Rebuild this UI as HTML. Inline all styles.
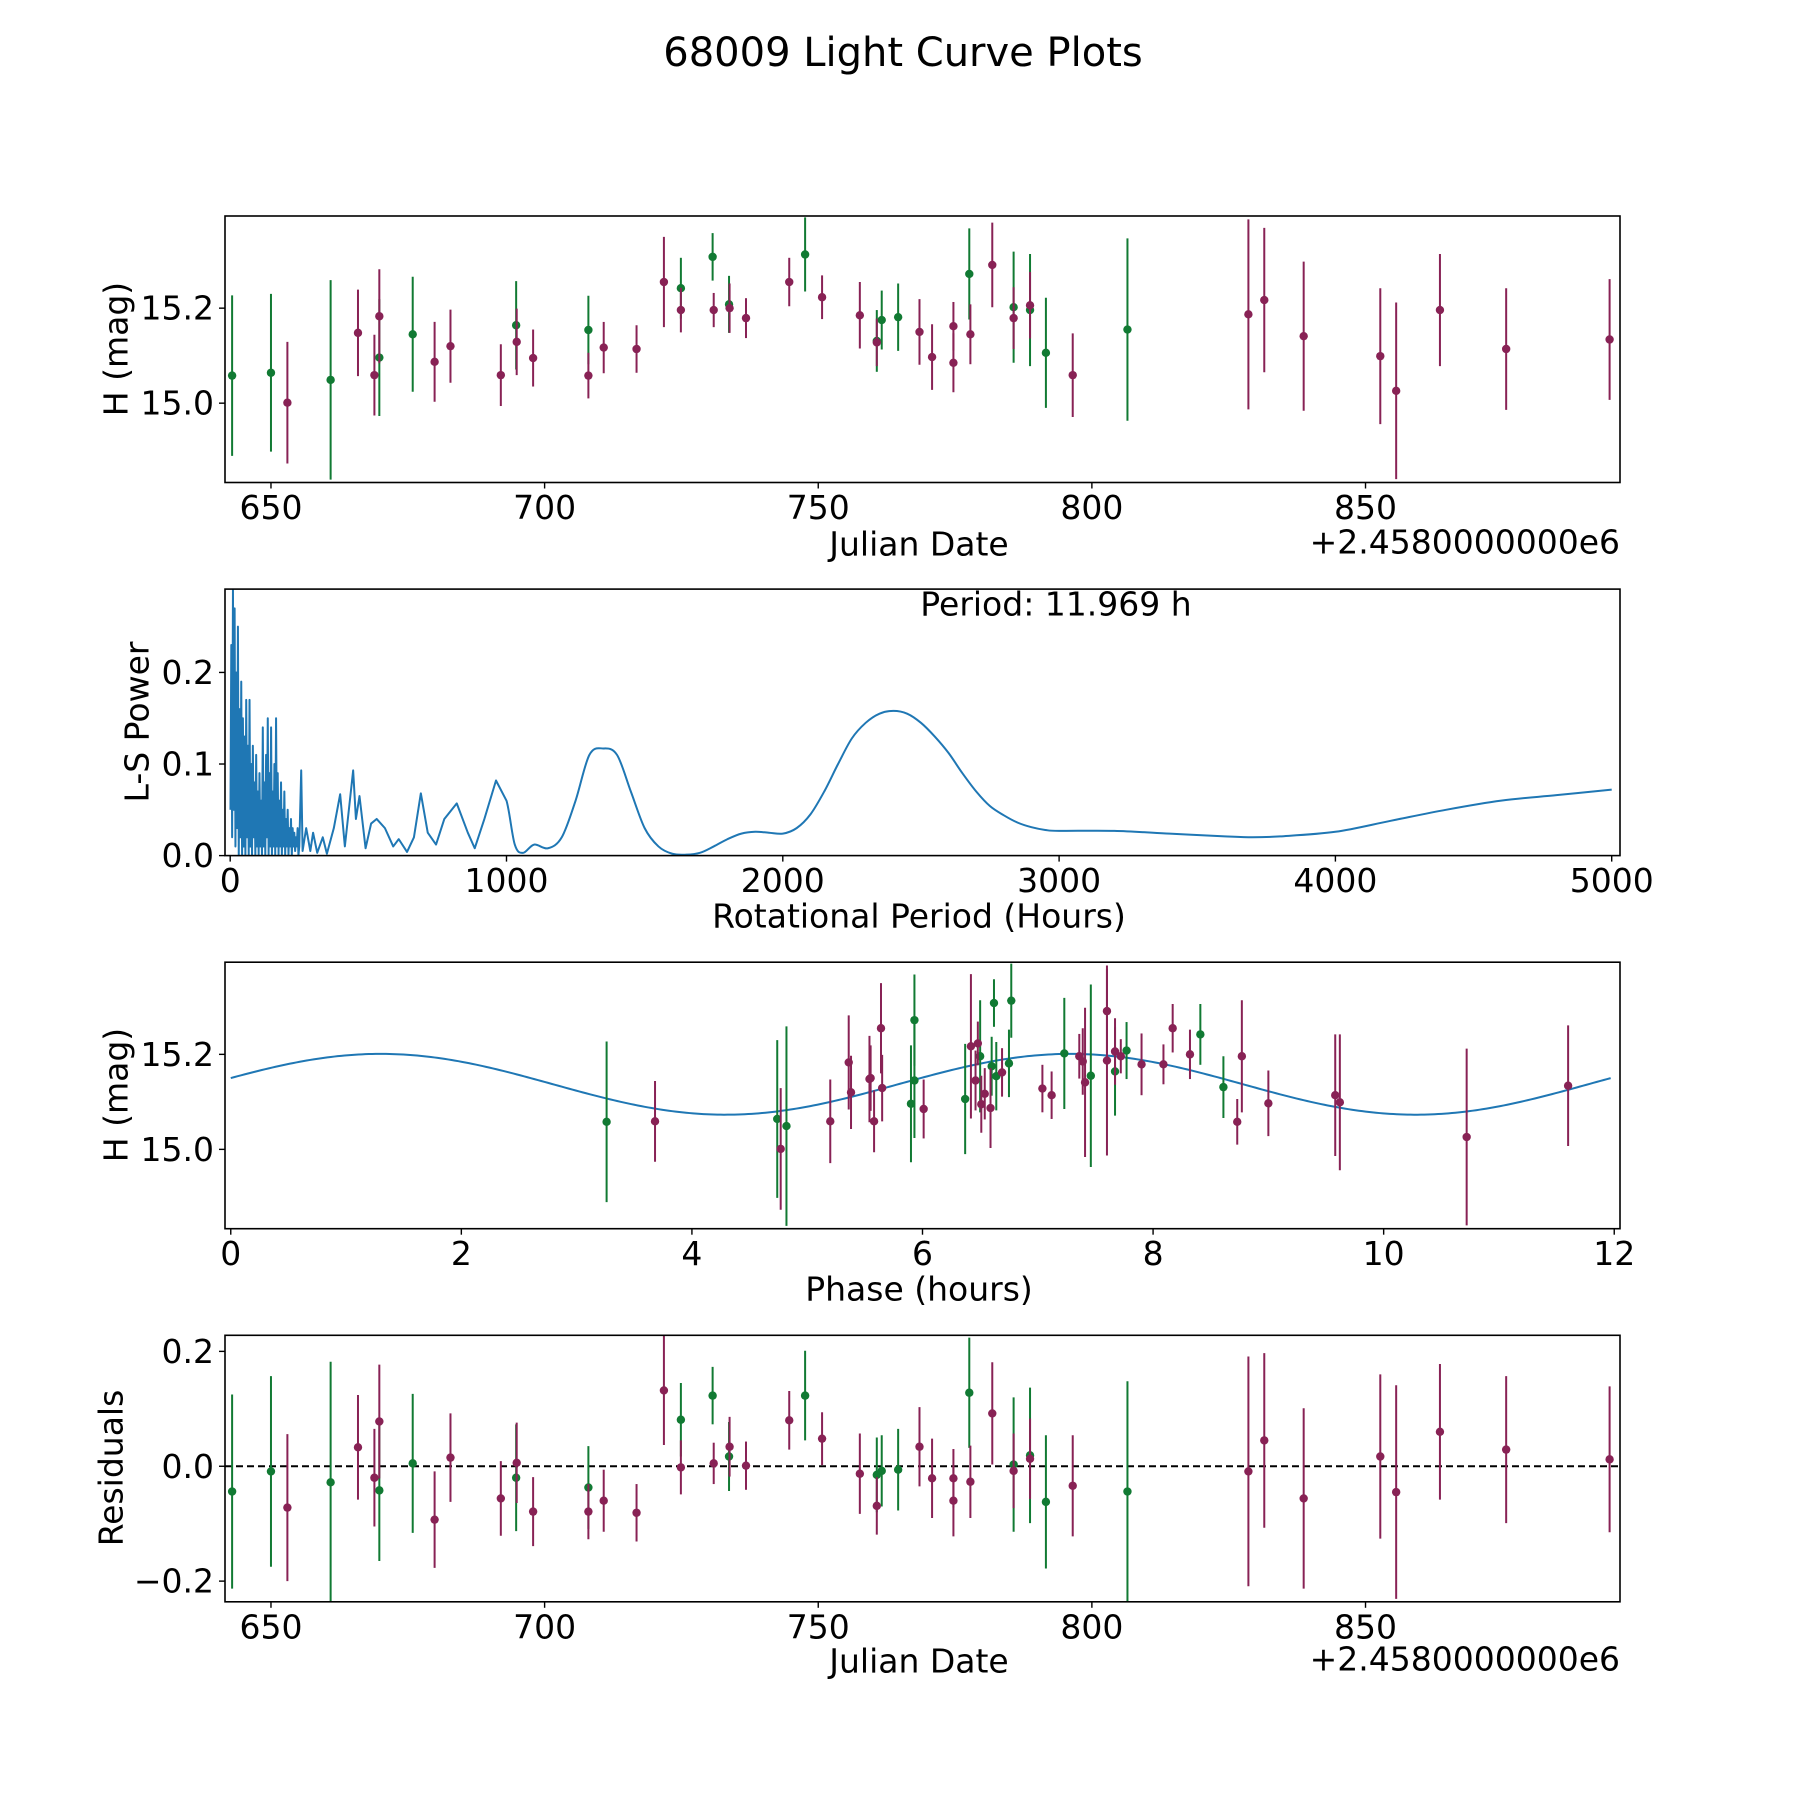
<!DOCTYPE html>
<html><head><meta charset="utf-8"><title>68009 Light Curve Plots</title>
<style>
html,body{margin:0;padding:0;background:#fff;}
svg text{font-family:"DejaVu Sans","Liberation Sans",sans-serif;fill:#000;}
</style></head>
<body>
<svg id="fig" xmlns="http://www.w3.org/2000/svg" width="1800" height="1800" viewBox="0 0 1800 1800">
<rect x="0" y="0" width="1800" height="1800" fill="#fff"/>
<text x="903" y="53" font-size="40" text-anchor="middle" dominant-baseline="central">68009 Light Curve Plots</text>
</svg>
<script>
// ---------- observation data ----------
const obsDates = [642.9,650.0,653.0,660.9,665.9,668.9,669.8,669.8,675.9,679.9,682.8,692.0,694.8,694.9,697.9,708.0,708.0,710.8,716.8,721.8,724.9,724.9,730.7,730.9,733.7,733.8,736.8,744.7,747.6,750.7,757.6,760.7,760.7,761.6,764.6,768.5,770.8,774.7,774.7,777.6,777.8,781.8,785.7,785.7,788.7,788.7,791.6,796.5,806.5,828.6,831.5,838.7,852.7,855.6,863.6,875.7,894.6];
const obsMag = [15.058,15.064,15.001,15.049,15.148,15.059,15.183,15.096,15.145,15.087,15.12,15.059,15.164,15.129,15.095,15.154,15.058,15.117,15.114,15.255,15.242,15.196,15.308,15.196,15.208,15.2,15.179,15.255,15.313,15.223,15.185,15.131,15.128,15.175,15.181,15.15,15.097,15.162,15.085,15.272,15.145,15.291,15.202,15.179,15.206,15.196,15.106,15.059,15.155,15.187,15.217,15.141,15.099,15.026,15.196,15.114,15.134];
const obsErr = [0.169,0.166,0.128,0.21,0.091,0.085,0.099,0.123,0.121,0.084,0.077,0.065,0.093,0.07,0.06,0.072,0.048,0.054,0.05,0.095,0.064,0.047,0.05,0.036,0.06,0.052,0.042,0.051,0.078,0.046,0.07,0.065,0.05,0.062,0.071,0.069,0.069,0.051,0.062,0.096,0.063,0.089,0.117,0.065,0.07,0.118,0.116,0.088,0.192,0.2,0.152,0.157,0.143,0.186,0.118,0.128,0.127];
const obsPhase = [3.26,4.74,4.77,4.82,5.54,3.68,5.36,5.90,5.93,6.59,5.38,5.58,7.67,5.65,6.51,6.64,8.73,6.54,7.12,5.64,8.41,7.36,6.62,7.72,7.77,8.32,8.09,8.17,6.77,6.48,7.39,8.61,7.04,6.60,6.75,5.55,9.00,6.69,6.01,5.93,6.46,7.60,7.23,7.90,7.67,6.50,6.37,5.20,7.46,7.60,6.42,7.41,9.62,10.72,8.77,9.58,11.60];
const obsResid = [-0.044,-0.009,-0.072,-0.028,0.033,-0.02,0.078,-0.042,0.005,-0.093,0.015,-0.056,-0.02,0.006,-0.079,-0.037,-0.079,-0.06,-0.081,0.132,0.081,-0.002,0.123,0.005,0.017,0.034,0.001,0.08,0.123,0.048,-0.013,-0.015,-0.069,-0.008,-0.006,0.034,-0.021,-0.021,-0.06,0.128,-0.027,0.092,0.003,-0.008,0.013,0.019,-0.062,-0.034,-0.044,-0.009,0.045,-0.056,0.017,-0.045,0.06,0.029,0.012];
const obsFilter = ['g','g','p','g','p','p','p','g','g','p','p','p','g','p','p','g','p','p','p','p','g','p','g','p','g','p','p','p','g','p','p','g','p','g','g','p','p','p','p','g','p','p','g','p','p','g','g','p','g','p','p','p','p','p','p','p','p'];

// ---------- periodogram ----------
const lsPeriods = [1,4,7,10,13,16,19,22,25,28,31,34,37,40,43,46,49,52,55,58,61,64,67,70,73,76,79,82,85,88,91,94,97,100,103,106,109,112,115,118,121,124,127,130,133,136,139,142,145,148,151,154,157,160,163,166,169,172,175,178,181,184,187,190,193,196,199,202,205,208,211,214,217,220,223,226,229,232,235,238,241,244,247,250,257,262,275,290,300,315,335,350,375,398,415,445,455,468,490,510,530,560,590,610,640,665,690,715,745,775,820,860,885,920,962,1000,1030,1060,1100,1150,1200,1250,1300,1350,1400,1450,1500,1550,1600,1650,1700,1750,1800,1850,1900,1950,2000,2050,2100,2150,2200,2250,2300,2350,2400,2450,2500,2550,2600,2650,2700,2750,2800,2850,2900,2950,3000,3200,3400,3600,3700,3800,4000,4200,4400,4600,4800,5000];
const lsPower = [0.05,0.23,0.02,0.29,0.05,0.27,0.01,0.2,0.03,0.25,0.0,0.16,0.02,0.19,0.0,0.15,0.01,0.13,0.0,0.17,0.02,0.12,0.0,0.17,0.01,0.1,0.0,0.12,0.02,0.08,0.0,0.11,0.01,0.07,0.0,0.09,0.01,0.06,0.0,0.14,0.01,0.08,0.0,0.11,0.02,0.15,0.0,0.09,0.01,0.14,0.0,0.07,0.01,0.1,0.0,0.15,0.01,0.09,0.0,0.06,0.01,0.08,0.0,0.05,0.01,0.07,0.0,0.04,0.01,0.05,0.0,0.03,0.01,0.04,0.0,0.03,0.01,0.025,0.005,0.02,0.01,0.03,0.0,0.01,0.093,0.005,0.03,0.005,0.025,0.003,0.02,0.002,0.03,0.067,0.01,0.093,0.04,0.065,0.008,0.035,0.04,0.03,0.01,0.018,0.004,0.02,0.068,0.025,0.012,0.04,0.057,0.025,0.008,0.04,0.082,0.06,0.012,0.003,0.012,0.008,0.02,0.06,0.11,0.117,0.11,0.07,0.03,0.01,0.002,0.001,0.003,0.01,0.018,0.024,0.026,0.025,0.024,0.03,0.045,0.07,0.1,0.128,0.145,0.155,0.158,0.155,0.145,0.13,0.112,0.09,0.07,0.054,0.044,0.036,0.031,0.028,0.027,0.027,0.024,0.021,0.02,0.021,0.026,0.038,0.05,0.06,0.066,0.072];
const periodLabel = "Period: 11.969 h";

// ---------- fitted model ----------
const modelMean = [15.137];
const modelAmp = [0.064];
const modelPeriod = [5.985];
const modelPeak = [1.3];

// ---------- ticks ----------
const dateTicks = [650,700,750,800,850];
const magTicks = [15.0,15.2];
const magTickLabels = ["15.0","15.2"];
const lsXTicks = [0,1000,2000,3000,4000,5000];
const lsYTicks = [0.0,0.1,0.2];
const lsYTickLabels = ["0.0","0.1","0.2"];
const phaseTicks = [0,2,4,6,8,10,12];
const residTicks = [-0.2,0.0,0.2];
const residTickLabels = ["\u22120.2","0.0","0.2"];

const NS = "http://www.w3.org/2000/svg";
const svg = document.getElementById('fig');
const GREEN = "#117a33", PURPLE = "#882255", BLUE = "#1f77b4";
const FS = 33;
function mk(tag, attrs, parent) {
  const e = document.createElementNS(NS, tag);
  for (const k in attrs) e.setAttribute(k, attrs[k]);
  (parent || svg).appendChild(e);
  return e;
}
const L = 225, R = 1620, AH = 266.5;
const tops = [216, 589.1, 962.2, 1335.3];
let clipN = 0;
function panel(idx, xmin, xmax, ymin, ymax, name) {
  const top = tops[idx], bot = top + AH;
  const g = mk('g', {});
  
  
  const id = 'clip' + (clipN++);
  const cp = mk('clipPath', {id: id}, g);
  mk('rect', {x: L, y: top, width: R - L, height: AH}, cp);
  const plot = mk('g', {'clip-path': 'url(#' + id + ')'}, g);
  
  
  return {g, plot, top, bot,
    sx: v => L + (v - xmin) / (xmax - xmin) * (R - L),
    sy: v => bot - (v - ymin) / (ymax - ymin) * AH};
}
function frame(p, name) {
  const r = mk('rect', {x: L, y: p.top, width: R - L, height: AH, fill: 'none', stroke: '#000', 'stroke-width': 1.6}, p.g);
  
  
}
function xTicks(p, ticks, labels, name) {
  ticks.forEach((t, i) => {
    const x = p.sx(t);
    const tl = mk('line', {x1: x, x2: x, y1: p.bot, y2: p.bot + 6, stroke: '#000', 'stroke-width': 1.4}, p.g);
    
    
    const tx = mk('text', {x: x, y: p.bot + 25, 'font-size': FS, 'text-anchor': 'middle', 'dominant-baseline': 'central'}, p.g);
    tx.textContent = labels[i];
    
    
  });
}
function yTicks(p, ticks, labels, name) {
  ticks.forEach((t, i) => {
    const y = p.sy(t);
    const tl = mk('line', {x1: L - 6, x2: L, y1: y, y2: y, stroke: '#000', 'stroke-width': 1.4}, p.g);
    
    
    const tx = mk('text', {x: L - 11, y: y, 'font-size': FS, 'text-anchor': 'end', 'dominant-baseline': 'central'}, p.g);
    tx.textContent = labels[i];
    
    
  });
}
function label(p, x, y, txt, name, rot, anchor) {
  const t = mk('text', {x: x, y: y, 'font-size': FS, 'text-anchor': anchor || 'middle', 'dominant-baseline': 'central'}, p.g);
  if (rot) t.setAttribute('transform', 'rotate(-90 ' + x + ' ' + y + ')');
  t.textContent = txt;
  
  
}
function errPoints(p, xs, ys, es, name) {
  ['g', 'p'].forEach(f => {
    const col = f === 'g' ? GREEN : PURPLE;
    for (let i = 0; i < xs.length; i++) {
      if (obsFilter[i] !== f) continue;
      const x = p.sx(xs[i]);
      const bar = mk('line', {x1: x, x2: x, y1: p.sy(ys[i] - es[i]), y2: p.sy(ys[i] + es[i]), stroke: col, 'stroke-width': 2}, p.plot);
      
      
      const c = mk('circle', {cx: x, cy: p.sy(ys[i]), r: 4.2, fill: col}, p.plot);
      
      
    }
  });
}
function dateFmt(v) { return String(v); }

// Panel 1: light curve
const p1 = panel(0, 641.6, 896.5, 14.833, 15.394, 'light-curve-panel');
errPoints(p1, obsDates, obsMag, obsErr, 'light-curve');
frame(p1, 'light-curve');
xTicks(p1, dateTicks, dateTicks.map(dateFmt), 'light-curve');
yTicks(p1, magTicks, magTickLabels, 'light-curve');
label(p1, 919, 544, 'Julian Date', 'light-curve-x-axis-title');
label(p1, 1620, 542, '+2.4580000000e6', 'light-curve-x-offset-label', false, 'end');
label(p1, 116, 349, 'H (mag)', 'light-curve-y-axis-title', true);

// Panel 2: periodogram (linear through dense part, smooth spline beyond)
const p2 = panel(1, -18.8, 5030, 0, 0.291, 'periodogram-panel');
const pts = lsPeriods.map((v, i) => [p2.sx(v), p2.sy(lsPower[i])]);
let d2 = 'M' + pts[0][0].toFixed(2) + ' ' + pts[0][1].toFixed(2);
for (let i = 1; i < pts.length; i++) {
  if (lsPeriods[i] <= 1000) { d2 += 'L' + pts[i][0].toFixed(2) + ' ' + pts[i][1].toFixed(2); continue; }
  const p0 = pts[i - 2] || pts[i - 1], a = pts[i - 1], b = pts[i], p3p = pts[i + 1] || b;
  const c1 = [a[0] + (b[0] - p0[0]) / 6, a[1] + (b[1] - p0[1]) / 6];
  const c2 = [b[0] - (p3p[0] - a[0]) / 6, b[1] - (p3p[1] - a[1]) / 6];
  d2 += 'C' + c1[0].toFixed(2) + ' ' + c1[1].toFixed(2) + ' ' + c2[0].toFixed(2) + ' ' + c2[1].toFixed(2) + ' ' + b[0].toFixed(2) + ' ' + b[1].toFixed(2);
}
const lsLine = mk('path', {d: d2, fill: 'none', stroke: BLUE, 'stroke-width': 2, 'stroke-linejoin': 'round'}, p2.plot);


frame(p2, 'periodogram');
xTicks(p2, lsXTicks, lsXTicks.map(String), 'periodogram');
yTicks(p2, lsYTicks, lsYTickLabels, 'periodogram');
label(p2, 919, 916, 'Rotational Period (Hours)', 'periodogram-x-axis-title');
label(p2, 137, 722, 'L-S Power', 'periodogram-y-axis-title', true);
label(p2, 1056, 604, periodLabel, 'period-annotation');

// Panel 3: phased
const p3 = panel(2, -0.05, 12.05, 14.833, 15.394, 'phase-panel');
let d3 = '';
for (let k = 0; k <= 400; k++) {
  const ph = 11.969 * k / 400;
  const m = modelMean[0] + modelAmp[0] * Math.cos(2 * Math.PI * (ph - modelPeak[0]) / modelPeriod[0]);
  d3 += (k ? 'L' : 'M') + p3.sx(ph).toFixed(2) + ' ' + p3.sy(m).toFixed(2);
}
const fitLine = mk('path', {d: d3, fill: 'none', stroke: BLUE, 'stroke-width': 2}, p3.plot);


errPoints(p3, obsPhase, obsMag, obsErr, 'phase');
frame(p3, 'phase');
xTicks(p3, phaseTicks, phaseTicks.map(String), 'phase');
yTicks(p3, magTicks, magTickLabels, 'phase');
label(p3, 919, 1289, 'Phase (hours)', 'phase-x-axis-title');
label(p3, 116, 1095, 'H (mag)', 'phase-y-axis-title', true);

// Panel 4: residuals
const p4 = panel(3, 641.6, 896.5, -0.236, 0.228, 'residuals-panel');
const zl = mk('line', {x1: L, x2: R, y1: p4.sy(0), y2: p4.sy(0), stroke: '#000', 'stroke-width': 2, 'stroke-dasharray': '7,4'}, p4.plot);


errPoints(p4, obsDates, obsResid, obsErr, 'residual');
frame(p4, 'residuals');
xTicks(p4, dateTicks, dateTicks.map(dateFmt), 'residuals');
yTicks(p4, residTicks, residTickLabels, 'residuals');
label(p4, 919, 1661, 'Julian Date', 'residuals-x-axis-title');
label(p4, 1620, 1659, '+2.4580000000e6', 'residuals-x-offset-label', false, 'end');
label(p4, 111, 1468, 'Residuals', 'residuals-y-axis-title', true);
</script>
</body></html>
